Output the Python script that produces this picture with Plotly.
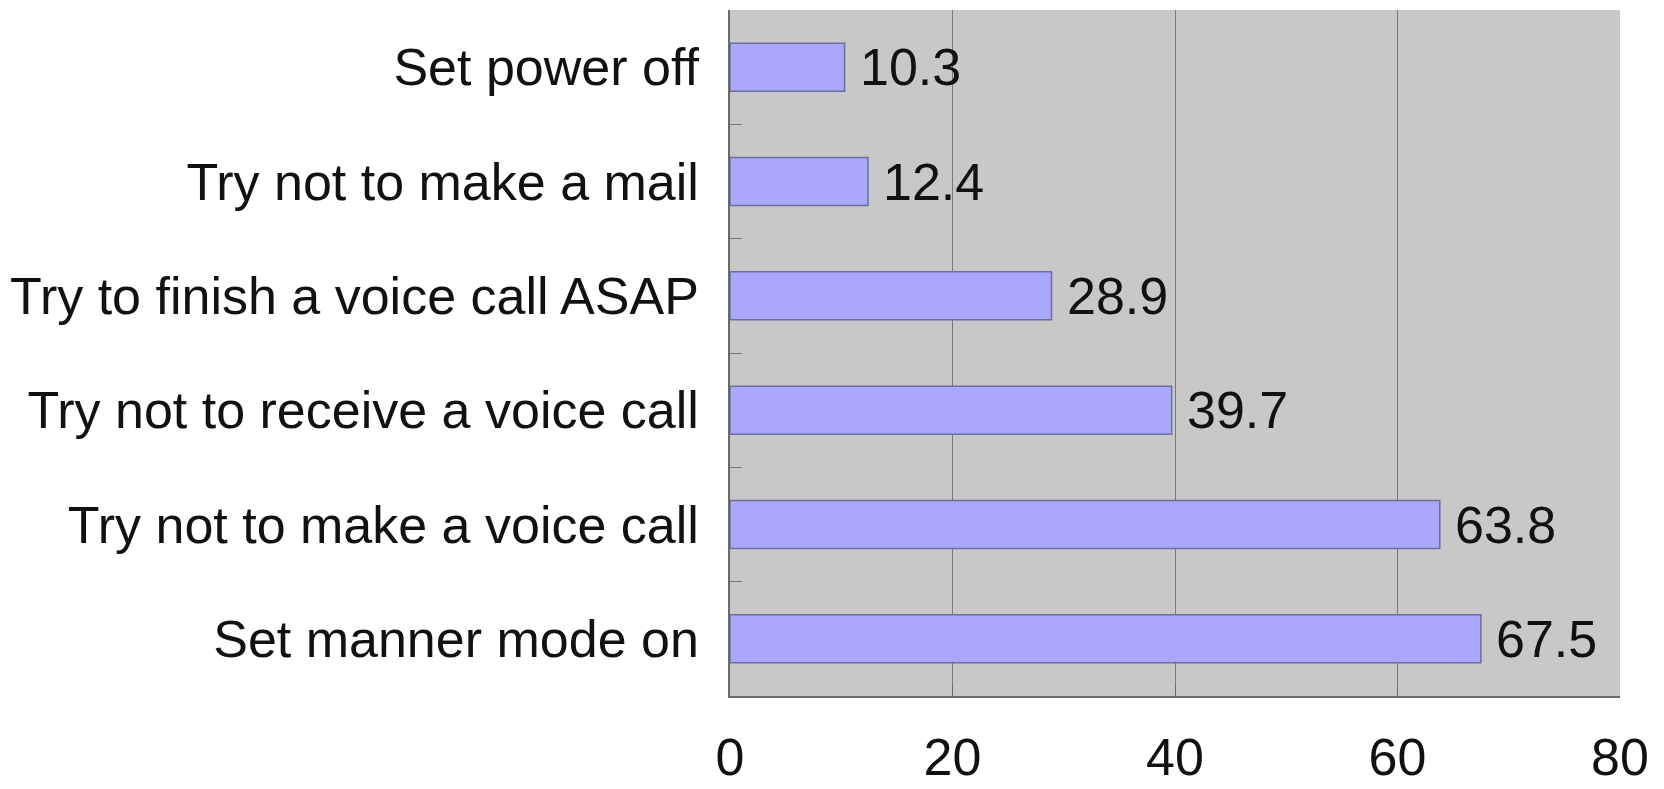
import plotly.graph_objects as go

categories = [
    "Set manner mode on",
    "Try not to make a voice call",
    "Try not to receive a voice call",
    "Try to finish a voice call ASAP",
    "Try not to make a mail",
    "Set power off",
]
values = [67.5, 63.8, 39.7, 28.9, 12.4, 10.3]
x_ticks = [0, 20, 40, 60, 80]

FONT = "Liberation Sans, Arial, sans-serif"
FS = 52

fig = go.Figure()
fig.add_trace(go.Bar(
    x=values,
    y=categories,
    orientation="h",
    width=0.42,
    marker=dict(color="#aaa8fc", line=dict(color="#6e6e9c", width=1.5)),
    hoverinfo="skip",
))

for v, c in zip(values, categories):
    fig.add_annotation(
        x=v, y=c, text=f"{v:.1f}", showarrow=False,
        xanchor="left", yanchor="middle", xshift=13,
        font=dict(family=FONT, size=FS, color="#111111"),
    )

# page body has an 8px default margin, so the figure is sized to fit inside it
fig.update_layout(
    width=1656, height=781,
    margin=dict(l=722, r=44, t=2, b=93, autoexpand=False),
    paper_bgcolor="white",
    plot_bgcolor="#c8c8c8",
    showlegend=False,
    font=dict(family=FONT, size=FS, color="#111111"),
)
fig.update_xaxes(
    automargin=False,
    range=[0, 80],
    tickvals=x_ticks,
    ticktext=[str(t) for t in x_ticks],
    showgrid=True, gridcolor="#7a7a7a", gridwidth=1,
    showline=True, linecolor="#6a6a6a", linewidth=1.5,
    ticks="inside", ticklen=12, tickcolor="#6a6a6a",
    ticklabelstandoff=15,
    zeroline=False,
    tickfont=dict(family=FONT, size=FS, color="#111111"),
)
fig.update_yaxes(
    automargin=False,
    categoryorder="array", categoryarray=categories,
    range=[-0.5, 5.5],
    showgrid=False,
    showline=True, linecolor="#6a6a6a", linewidth=1.5,
    ticks="inside", tickson="boundaries", ticklen=12, tickcolor="#7a7a7a",
    ticklabelstandoff=19,
    tickfont=dict(family=FONT, size=FS, color="#111111"),
)

fig.write_html("out.html")
